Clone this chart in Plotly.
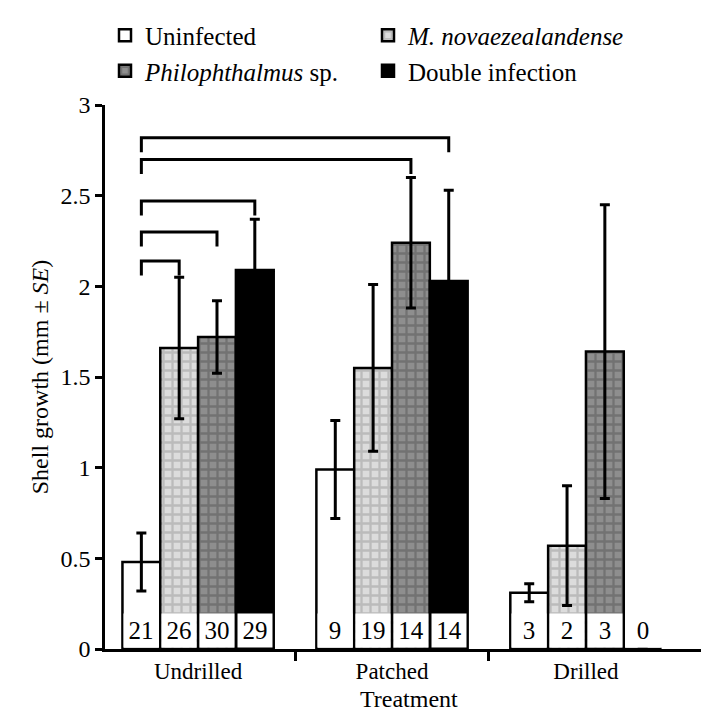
import plotly.graph_objects as go

treatments = ["Undrilled", "Patched", "Drilled"]
series_names = ["Uninfected", "<i>M. novaezealandense</i>", "<i>Philophthalmus</i> sp.", "Double infection"]

uninfected = [0.48, 0.99, 0.31]
m_novae = [1.66, 1.55, 0.57]
philoph = [1.72, 2.24, 1.64]
double_inf = [2.09, 2.03, 0.0]

se_uninfected = [0.16, 0.27, 0.05]
se_m_novae = [0.39, 0.46, 0.33]
se_philoph = [0.20, 0.36, 0.81]
se_double = [0.28, 0.50, 0.0]

n_uninfected = [21, 9, 3]
n_m_novae = [26, 19, 2]
n_philoph = [30, 14, 3]
n_double = [29, 14, 0]

# brackets: from (group 0, series 0) to (group, series) at height
bracket_to_group = [0, 0, 0, 1, 1]
bracket_to_series = [1, 2, 3, 2, 3]
bracket_height = [2.14, 2.30, 2.47, 2.70, 2.82]

values = [uninfected, m_novae, philoph, double_inf]
errors = [se_uninfected, se_m_novae, se_philoph, se_double]
counts = [n_uninfected, n_m_novae, n_philoph, n_double]

BARGAP = 0.22
NS = len(values)
bw = (1 - BARGAP) / NS


def xpos(g, s):
    return g - (1 - BARGAP) / 2 + (s + 0.5) * bw


FONT = "Liberation Serif, Times New Roman, serif"
styles = [
    dict(color="white", pattern=None),
    dict(color="#c8c8c8", pattern=dict(shape="+", fgcolor="#9a9a9a", bgcolor="#dcdcdc", size=9, solidity=0.45)),
    dict(color="#7a7a7a", pattern=dict(shape="+", fgcolor="#555555", bgcolor="#8e8e8e", size=9, solidity=0.45)),
    dict(color="black", pattern=None),
]

xs = list(range(len(treatments)))
fig = go.Figure()
for s in range(NS):
    marker = dict(color=styles[s]["color"], line=dict(color="black", width=2.5))
    if styles[s]["pattern"]:
        marker["pattern"] = styles[s]["pattern"]
    err_arr = [e if v > 0 else None for e, v in zip(errors[s], values[s])]
    fig.add_trace(go.Bar(
        x=xs, y=values[s], name=series_names[s], marker=marker,
        error_y=dict(type="data", array=err_arr, color="black", thickness=3, width=5, visible=True),
    ))

# sample sizes
for s in range(NS):
    for g in xs:
        fig.add_annotation(
            x=xpos(g, s), y=0.1, xref="x", yref="y", text=str(counts[s][g]),
            showarrow=False, bgcolor="white", width=32, height=31, borderpad=1,
            font=dict(family=FONT, size=25, color="black"), yanchor="middle",
        )

# significance brackets
LEG = 0.08
for tg, ts, h in zip(bracket_to_group, bracket_to_series, bracket_height):
    x0 = xpos(0, 0)
    x1 = xpos(tg, ts)
    fig.add_trace(go.Scatter(
        x=[x0, x0, x1, x1], y=[h - LEG, h, h, h - LEG], mode="lines",
        line=dict(color="black", width=3), showlegend=False, hoverinfo="skip",
    ))

# x-axis title
fig.add_annotation(
    x=0.5, y=0, xref="paper", yref="paper", text="Treatment", showarrow=False,
    yanchor="middle", yshift=-50, font=dict(family=FONT, size=24, color="black"),
)

fig.update_layout(
    width=709, height=715,
    margin=dict(l=97, r=5, t=95, b=74),
    paper_bgcolor="white", plot_bgcolor="white",
    barmode="group", bargap=BARGAP, bargroupgap=0,
    font=dict(family=FONT, size=24, color="black"),
    showlegend=True,
    legend=dict(
        orientation="h", x=0.0, y=1.17, xanchor="left", yanchor="top",
        entrywidth=218, entrywidthmode="pixels", font=dict(family=FONT, size=25, color="black"),
        bgcolor="rgba(0,0,0,0)", tracegroupgap=0, traceorder="normal", itemwidth=30,
    ),
    xaxis=dict(
        range=[-0.48, 2.65], tickvals=xs, ticktext=treatments, ticks="",
        showline=True, linecolor="black", linewidth=2.5, showgrid=False, zeroline=False,
        tickfont=dict(family=FONT, size=23),
        minor=dict(tickvals=[0.5, 1.5], ticks="outside", ticklen=9, tickwidth=2.5, tickcolor="black", showgrid=False),
    ),
    yaxis=dict(
        range=[0, 3], dtick=0.5, ticks="outside", ticklen=7, tickwidth=2.5, tickcolor="black",
        showline=True, linecolor="black", linewidth=2.5, showgrid=False, zeroline=False,
        tickfont=dict(family=FONT, size=24),
        title=dict(text="Shell growth (mm ± <i>SE</i>)", font=dict(family=FONT, size=24), standoff=6),
    ),
)

fig.write_html("out.html")
